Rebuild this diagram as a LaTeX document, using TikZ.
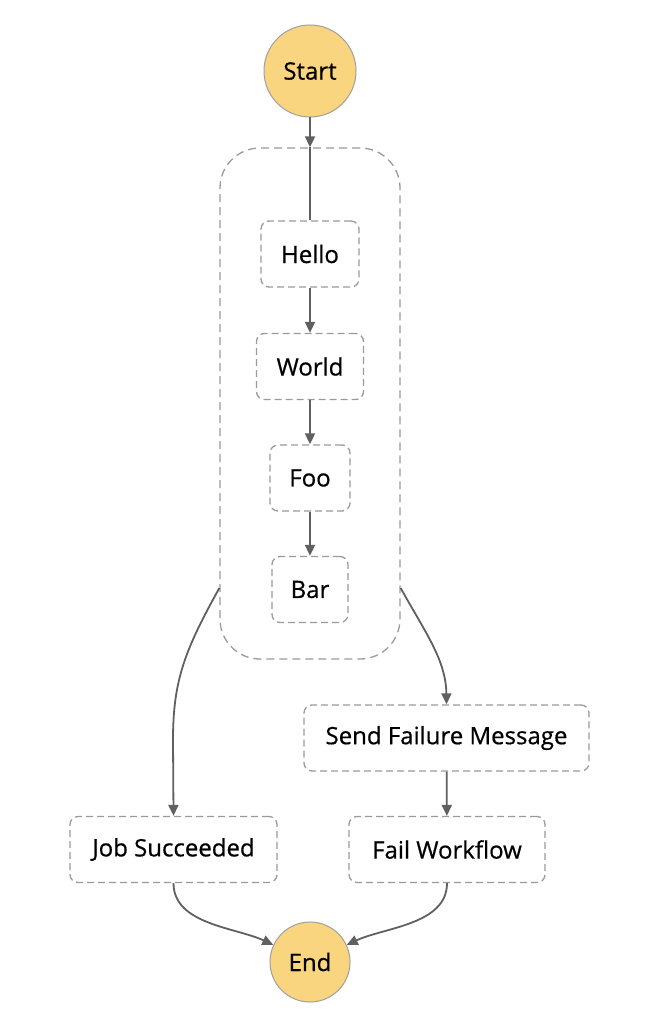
\documentclass[tikz,border=0pt]{standalone}
\usepackage{fontspec}
\setmainfont{Open Sans}
\newfontfamily\labelfont[FakeBold=0.6]{Open Sans}
\usetikzlibrary{arrows.meta}
\definecolor{startfill}{HTML}{F8D57E}
\definecolor{circline}{HTML}{A0A0A0}
\definecolor{dashline}{HTML}{9A9A9A}
\definecolor{arrline}{HTML}{606060}
\tikzset{
  circ/.style={circle, fill=startfill, draw=circline, line width=1pt, font=\labelfont\fontsize{24}{28}\selectfont, inner sep=0pt},
  task/.style={draw=dashline, line width=1.3pt, dash pattern=on 7pt off 4pt, rounded corners=8pt, font=\labelfont\fontsize{24}{28}\selectfont, inner sep=0pt, minimum height=66pt},
  group/.style={draw=dashline, line width=1.3pt, dash pattern=on 8pt off 5pt, rounded corners=40pt, inner sep=0pt},
  conn/.style={draw=arrline, line width=1.8pt, -{Triangle[length=11pt,width=10pt]}},
  plain/.style={draw=arrline, line width=1.8pt},
}
\begin{document}
\begin{tikzpicture}[x=1pt,y=-1pt]
\useasboundingbox (0,0) rectangle (650,1024);
\node[circ, minimum size=92pt] (start) at (310,71) {Start};
\node[group, minimum width=180pt, minimum height=511pt] (par) at (310,403.5) {};
\node[task, minimum width=98pt] (hello) at (310,254) {Hello};
\node[task, minimum width=107pt] (world) at (310,366.5) {World};
\node[task, minimum width=80pt] (foo) at (310,478) {Foo};
\node[task, minimum width=76pt] (bar) at (310,589.5) {Bar};
\node[task, minimum width=285pt] (send) at (446.5,738) {Send Failure Message};
\node[task, minimum width=207pt] (job) at (173.5,849.5) {Job Succeeded};
\node[task, minimum width=196pt] (fail) at (447,849.5) {Fail Workflow};
\node[circ, minimum size=80pt] (end) at (310,962) {End};
\coordinate (pl) at (par.west |- 0,588);
\coordinate (pr) at (par.east |- 0,588);
\draw[conn] (start) -- (par.north);
\draw[plain] (par.north) -- (hello.north);
\draw[conn] (hello) -- (world);
\draw[conn] (world) -- (foo);
\draw[conn] (foo) -- (bar);
\draw[conn] (pl) .. controls (185,650) and (173,680) .. (173,740) -- (job.north);
\draw[conn] (pr) .. controls (425,632) and (446,660) .. (send.north);
\draw[conn] (send) -- (fail);
\draw[conn] (job.south) to[out=-90,in=155,looseness=0.9] (end);
\draw[conn] (fail.south) to[out=-90,in=25,looseness=0.9] (end);
\end{tikzpicture}
\end{document}
